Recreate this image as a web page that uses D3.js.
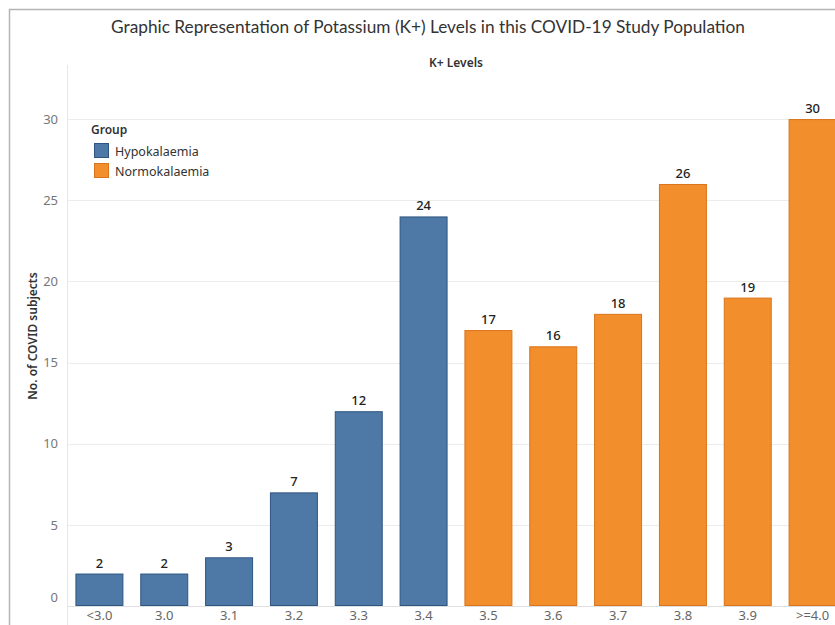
<!DOCTYPE html>
<html>
<head>
<meta charset="utf-8">
<script src="https://cdn.jsdelivr.net/npm/d3@7/dist/d3.min.js"></script>
<style>
  html, body { margin: 0; padding: 0; background: #fff; }
  svg { display: block; }
  text { font-family: "Noto Sans", "Open Sans", sans-serif; }
</style>
</head>
<body>
<svg id="chart" width="835" height="625"></svg>
<script>
// Potassium level bins and number of subjects in each
const levels = ["<3.0", "3.0", "3.1", "3.2", "3.3", "3.4", "3.5", "3.6", "3.7", "3.8", "3.9", ">=4.0"];
const counts = [2, 2, 3, 7, 12, 24, 17, 16, 18, 26, 19, 30];
const groups = ["Hypokalaemia", "Hypokalaemia", "Hypokalaemia", "Hypokalaemia", "Hypokalaemia", "Hypokalaemia",
                "Normokalaemia", "Normokalaemia", "Normokalaemia", "Normokalaemia", "Normokalaemia", "Normokalaemia"];
const groupNames = ["Hypokalaemia", "Normokalaemia"];
const yTicks = [0, 5, 10, 15, 20, 25, 30];

const svg = d3.select("#chart");

const pane = { left: 67, right: 845, top: 65, bottom: 606 };

const x = d3.scaleBand()
  .domain(levels)
  .range([pane.left, pane.right])
  .paddingInner(0.26)
  .paddingOuter(0.13);

const y = d3.scaleLinear()
  .domain([0, 33.33])
  .range([pane.bottom, pane.top]);

const color = d3.scaleOrdinal()
  .domain(groupNames)
  .range(["#4e79a7", "#f28e2b"]);
const stroke = d3.scaleOrdinal()
  .domain(groupNames)
  .range(["#2e5480", "#d9741c"]);

// sheet frame
svg.append("path")
  .attr("d", "M9.5,640 V9.5 H850")
  .attr("fill", "none")
  .attr("stroke", "#b4b4b4")
  .attr("stroke-width", 1.5);

// title
const title = svg.append("text")
  .attr("x", 428)
  .attr("y", 26)
  .attr("text-anchor", "middle")
  .attr("dominant-baseline", "central")
  .attr("fill", "#333")
  .style("font-family", "Lato, 'Noto Sans', sans-serif")
  .style("font-size", "17px")
  .text("Graphic Representation of Potassium (K+) Levels in this COVID-19 Study Population");
{
  const w = title.node().getComputedTextLength();
  title.style("font-size", (17 * 634 / w).toFixed(2) + "px");
}

// column header
svg.append("text")
  .attr("x", (pane.left + pane.right) / 2)
  .attr("y", 62)
  .attr("text-anchor", "middle")
  .attr("dominant-baseline", "central")
  .attr("fill", "#333")
  .style("font-size", "12px")
  .style("font-weight", "600")
  .text("K+ Levels");

// gridlines
svg.append("g")
  .selectAll("line")
  .data(yTicks.filter(d => d > 0))
  .join("line")
  .attr("x1", pane.left)
  .attr("x2", 835)
  .attr("y1", d => Math.round(y(d)) + 0.5)
  .attr("y2", d => Math.round(y(d)) + 0.5)
  .attr("stroke", "#ececec");

// pane border on the left and zero line
svg.append("line")
  .attr("x1", pane.left + 0.5).attr("x2", pane.left + 0.5)
  .attr("y1", pane.top).attr("y2", 625)
  .attr("stroke", "#e8e8e8");
svg.append("line")
  .attr("x1", pane.left).attr("x2", 835)
  .attr("y1", pane.bottom + 0.5).attr("y2", pane.bottom + 0.5)
  .attr("stroke", "#e0e0e0");

// y axis labels (end label nudged inside the pane)
const yAxis = d3.axisLeft(y).tickValues(yTicks).tickSize(0).tickPadding(9);
const yg = svg.append("g")
  .attr("transform", `translate(${pane.left},0)`)
  .call(yAxis);
yg.select(".domain").remove();
yg.selectAll(".tick text")
  .attr("fill", "#777")
  .style("font-size", "13px")
  .attr("dy", d => d === 0 ? "-0.35em" : "0.32em");

// y axis title
svg.append("text")
  .attr("transform", "translate(32,336) rotate(-90)")
  .attr("text-anchor", "middle")
  .attr("dominant-baseline", "central")
  .attr("fill", "#333")
  .style("font-size", "12px")
  .style("font-weight", "600")
  .text("No. of COVID subjects");

// bars
const rows = levels.map((l, i) => ({ level: l, count: counts[i], group: groups[i] }));

svg.append("g")
  .selectAll("rect")
  .data(rows)
  .join("rect")
  .attr("x", d => x(d.level) + 0.5)
  .attr("y", d => y(d.count) + 0.5)
  .attr("width", x.bandwidth() - 1)
  .attr("height", d => y(0) - y(d.count) - 1)
  .attr("fill", d => color(d.group))
  .attr("stroke", d => stroke(d.group))
  .attr("stroke-width", 1);

// value labels
svg.append("g")
  .selectAll("text")
  .data(rows)
  .join("text")
  .attr("x", d => x(d.level) + x.bandwidth() / 2)
  .attr("y", d => y(d.count) - 11)
  .attr("text-anchor", "middle")
  .attr("dominant-baseline", "central")
  .attr("fill", "#222")
  .style("font-size", "13px")
  .style("font-weight", "500")
  .text(d => d.count);

// x axis labels
const xAxis = d3.axisBottom(x).tickSize(0).tickPadding(5);
const xg = svg.append("g")
  .attr("transform", `translate(0,${pane.bottom})`)
  .call(xAxis);
xg.select(".domain").remove();
xg.selectAll(".tick text")
  .attr("fill", "#666")
  .style("font-size", "13px");

// legend
const legend = svg.append("g").attr("transform", "translate(91,0)");
legend.append("text")
  .attr("x", 0)
  .attr("y", 129)
  .attr("dominant-baseline", "central")
  .attr("fill", "#333")
  .style("font-size", "12px")
  .style("font-weight", "600")
  .text("Group");
const items = legend.selectAll("g.item")
  .data(groupNames)
  .join("g")
  .attr("class", "item")
  .attr("transform", (d, i) => `translate(3,${143 + i * 20})`);
items.append("rect")
  .attr("x", 0.5).attr("y", 0.5)
  .attr("width", 14).attr("height", 14)
  .attr("fill", d => color(d))
  .attr("stroke", d => stroke(d));
items.append("text")
  .attr("x", 21)
  .attr("y", 8)
  .attr("dominant-baseline", "central")
  .attr("fill", "#333")
  .style("font-size", "12.5px")
  .text(d => d);
</script>
</body>
</html>
